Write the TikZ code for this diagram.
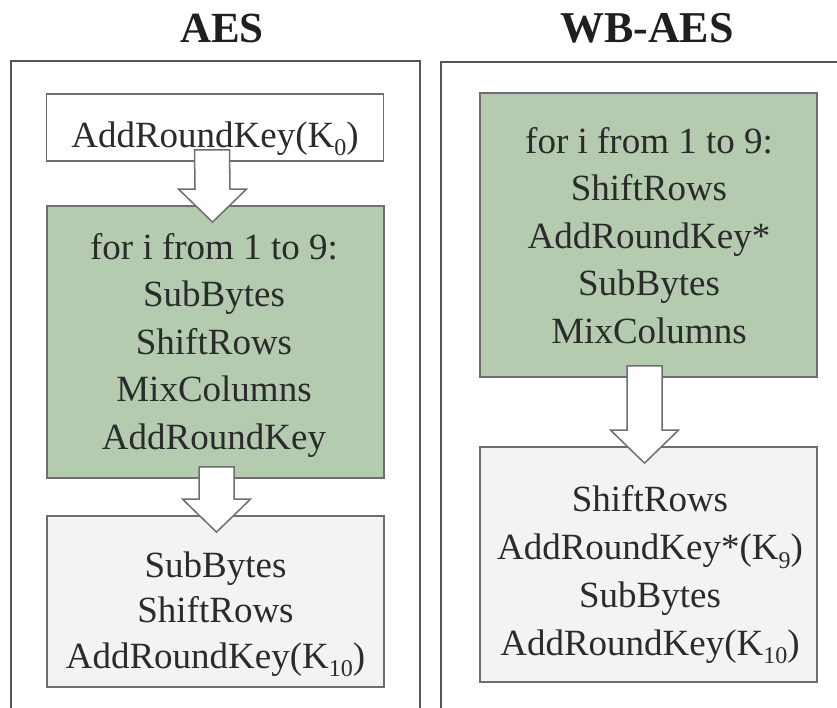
\documentclass[tikz,border=0pt]{standalone}
\usepackage{fontspec}
\setmainfont{Liberation Serif}
\usetikzlibrary{calc}

\definecolor{loopgreen}{HTML}{B4CBB0}
\definecolor{lastgray}{HTML}{F2F3F3}
\definecolor{edgegray}{HTML}{6E6E6E}
\definecolor{framegray}{HTML}{555555}
\definecolor{inkgray}{HTML}{2B2B2B}

% lowered, smaller key index
\newcommand\ksub[1]{\raisebox{-0.24em}{\fontsize{24}{24}\selectfont #1}}

% hollow block arrow from the bottom of #1 into the top of #2, axis shifted by #3
\newcommand\flowarrow[3]{%
  \draw[blockarrow]
    ($(#1.south)+(#3-17.5,-12)$) -- ($(#1.south)+(#3+17.5,-12)$)
    -- ($(#2.north)+(#3+17.5,-16)$) -- ($(#2.north)+(#3+34,-16)$)
    -- ($(#2.north)+(#3,17)$) -- ($(#2.north)+(#3-34,-16)$)
    -- ($(#2.north)+(#3-17.5,-16)$) -- cycle;}

\tikzset{
  frame/.style={draw=framegray, line width=2.6pt},
  stagebox/.style={draw=edgegray, line width=1.8pt, inner sep=0pt,
    minimum width=337pt},
  loopbox/.style={stagebox, fill=loopgreen},
  lastbox/.style={stagebox, fill=lastgray},
  firstbox/.style={stagebox, fill=white},
  % multi-line steps are placed by the baseline of their last line
  steps/.style={anchor=base, align=center, inner sep=0pt, text=inkgray,
    font=\fontsize{37}{47.4}\selectfont},
  title/.style={anchor=base, inner sep=0pt, text=black!88,
    font=\fontsize{43}{43}\selectfont\bfseries},
  blockarrow/.style={draw=edgegray, fill=white, line width=1.5pt,
    line join=miter}
}

\begin{document}
\begin{tikzpicture}[x=1pt, y=-1pt]
  \useasboundingbox (0,0) rectangle (837,707);
  \clip (0,0) rectangle (837,707);

  % column titles
  \node[title] (aestitle) at (222,42) {AES};
  \node[title, font=\fontsize{44}{44}\selectfont\bfseries] (wbtitle) at (647,42) {WB-AES};

  % open frames around the two columns
  \draw[frame] (11,712) -- (11,61) -- (420,61) -- (420,712);
  \draw[frame] (441,712) -- (441,62) -- (845,62);

  % AES column
  \node[firstbox, minimum height=67pt] (k0) at (215,127.5) {};
  \node[loopbox, minimum height=272pt] (aesloop) at (215.5,342) {};
  \node[lastbox, minimum height=171pt] (aeslast) at (215.5,601.5) {};

  \node[steps] (k0text) at (215,147) {AddRoundKey(K\ksub{0})};
  \node[steps] (aeslooptext) at (214,449)
    {for i from 1 to 9:\\SubBytes\\ShiftRows\\MixColumns\\AddRoundKey};
  \node[steps, font=\fontsize{37}{45.5}\selectfont] (aeslasttext) at (215.5,668)
    {SubBytes\\ShiftRows\\AddRoundKey(K\ksub{10})};

  % WB-AES column
  \node[loopbox, minimum height=284pt] (wbloop) at (648.5,235) {};
  \node[lastbox, minimum height=235pt] (wblast) at (648.5,564.5) {};

  \node[steps] (wblooptext) at (649,343)
    {for i from 1 to 9:\\ShiftRows\\AddRoundKey*\\SubBytes\\MixColumns};
  \node[steps, font=\fontsize{37}{47.7}\selectfont] (wblasttext) at (650,655)
    {ShiftRows\\AddRoundKey*(K\ksub{9})\\SubBytes\\AddRoundKey(K\ksub{10})};

  % block arrows between stages
  \flowarrow{k0}{aesloop}{-3}
  \flowarrow{aesloop}{aeslast}{1}
  \flowarrow{wbloop}{wblast}{-4}
\end{tikzpicture}
\end{document}
